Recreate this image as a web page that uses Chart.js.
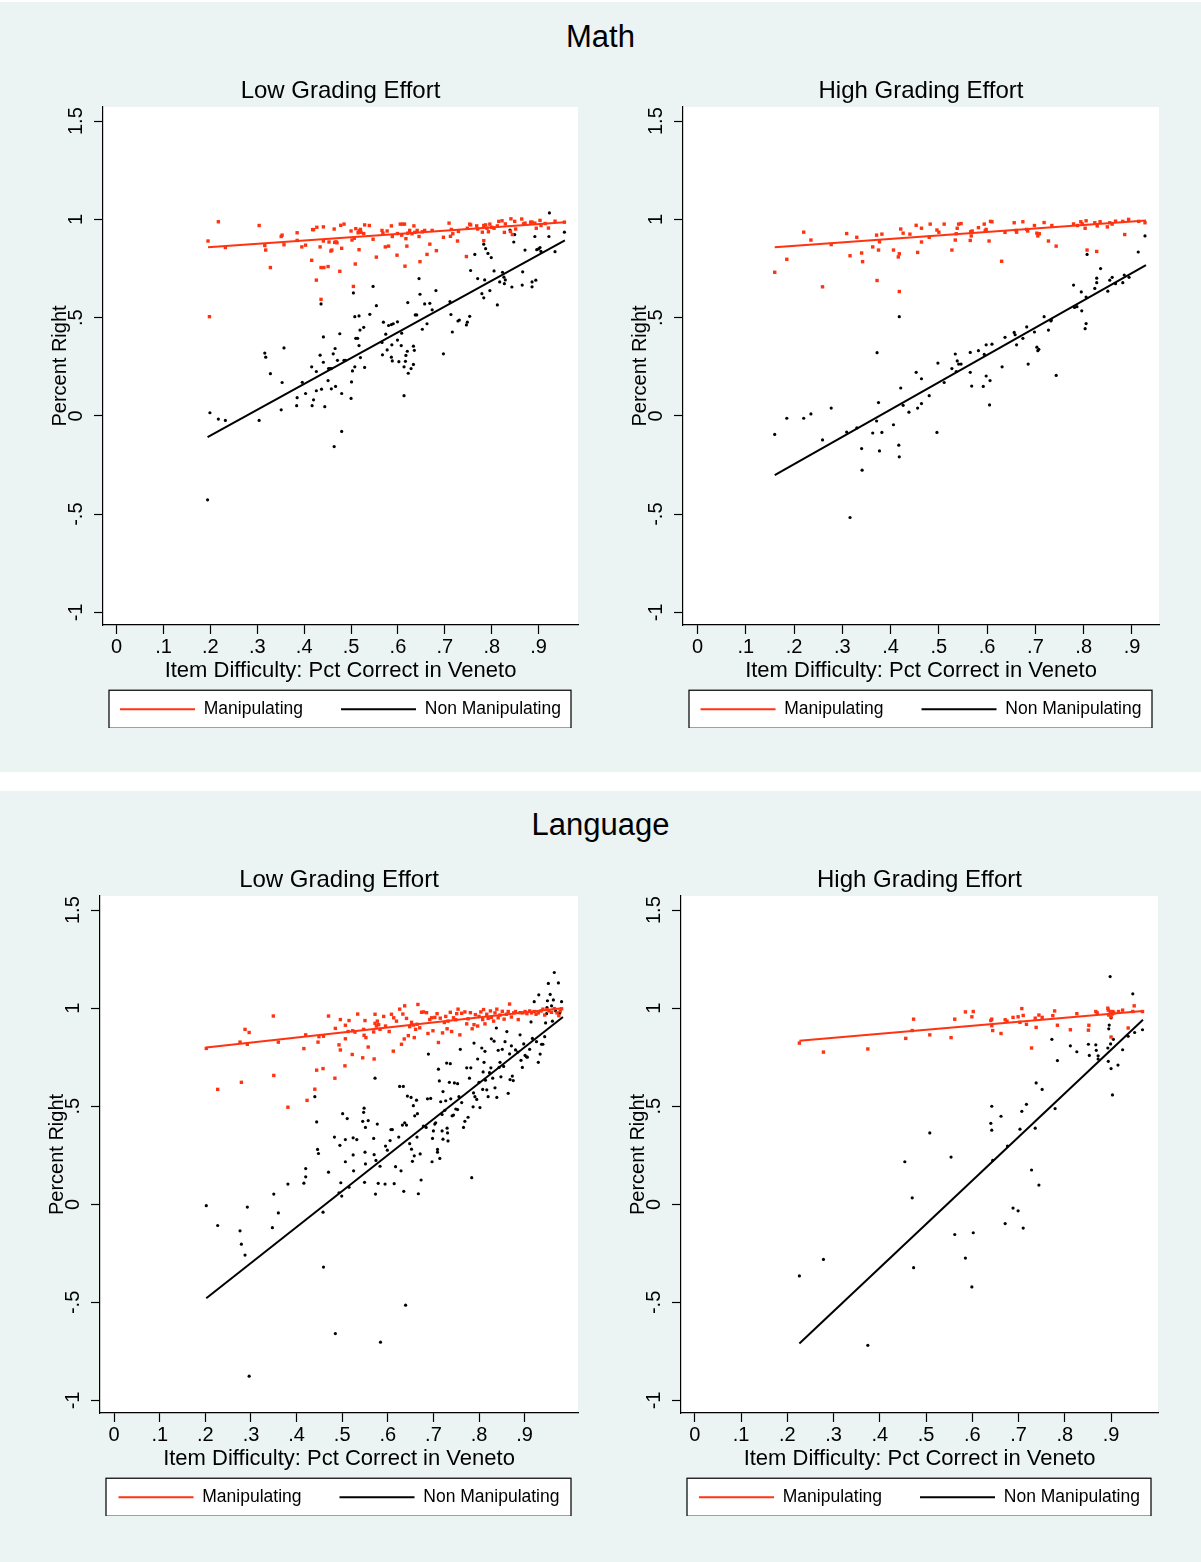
<!DOCTYPE html>
<html>
<head>
<meta charset="utf-8">
<title>Percent Right vs Item Difficulty</title>
<script src="https://cdn.jsdelivr.net/npm/chart.js@4.4.1/dist/chart.umd.min.js"></script>
<style>
  html, body { margin: 0; padding: 0; background: #ffffff; overflow: hidden; }
  body { position: relative; width: 1201px; height: 1562px;
         font-family: "Liberation Sans", Arial, Helvetica, sans-serif; }
  .block { position: absolute; left: 0; width: 1201px; background: #ebf3f3; }
  .block-title { position: absolute; left: 0; width: 1201px; text-align: center;
                 font-size: 31px; line-height: 40px; color: #000; }
  canvas { position: absolute; }
</style>
</head>
<body>
<div class="block" style="top:2px;height:770px"></div>
<div class="block" style="top:791px;height:771px"></div>
<div class="block-title" style="top:17px">Math</div>
<div class="block-title" style="top:805px">Language</div>

<canvas id="mathLow"   width="601" height="654" style="left:40px;top:74px"></canvas>
<canvas id="mathHigh"  width="602" height="654" style="left:620px;top:74px"></canvas>
<canvas id="langLow"   width="604" height="653" style="left:37px;top:863px"></canvas>
<canvas id="langHigh"  width="603" height="653" style="left:618px;top:863px"></canvas>

<script>
// ---- axis ticks ----
const xTicks = [0, 0.1, 0.2, 0.3, 0.4, 0.5, 0.6, 0.7, 0.8, 0.9];
const xTickLabels = ['0', '.1', '.2', '.3', '.4', '.5', '.6', '.7', '.8', '.9'];
const yTicks = [-1, -0.5, 0, 0.5, 1, 1.5];
const yTickLabels = ['-1', '-.5', '0', '.5', '1', '1.5'];

const seriesNames = ['Manipulating', 'Non Manipulating'];

// ---- Math, low grading effort: [item difficulty, percent right] ----
const mathLowManip = [
  [.195,.89],[.217,.988],[.232,.857],[.304,.969],[.316,.867],[.318,.844],[.328,.755],[.351,.913],[.353,.92],[.357,.871],
  [.385,.932],[.385,.893],[.395,.86],[.403,.869],[.416,.792],[.418,.948],[.42,.948],[.426,.691],[.427,.96],[.434,.86],
  [.436,.755],[.441,.962],[.442,.755],[.441,.89],[.451,.76],[.453,.885],[.457,.839],[.459,.844],[.464,.951],[.465,.883],
  [.468,.886],[.47,.881],[.476,.736],[.478,.97],[.48,.853],[.485,.976],[.5,.941],[.502,.895],[.505,.659],[.507,.904],
  [.509,.773],[.51,.953],[.515,.932],[.517,.846],[.517,.942],[.52,.949],[.521,.934],[.527,.928],[.529,.972],[.539,.969],
  [.547,.899],[.554,.808],[.566,.944],[.568,.93],[.573,.86],[.577,.941],[.58,.864],[.586,.967],[.588,.913],[.598,.818],
  [.599,.928],[.605,.976],[.608,.92],[.61,.976],[.614,.976],[.617,.902],[.615,.762],[.619,.864],[.621,.93],[.625,.944],
  [.63,.927],[.634,.967],[.636,.934],[.641,.944],[.645,.913],[.647,.785],[.652,.937],[.657,.944],[.662,.822],[.668,.874],
  [.673,.944],[.682,.841],[.697,.909],[.709,.981],[.712,.914],[.714,.949],[.717,.927],[.727,.89],[.729,.939],[.746,.811],
  [.748,.955],[.753,.976],[.755,.972],[.768,.967],[.77,.951],[.78,.935],[.783,.892],[.783,.969],[.787,.972],[.79,.955],
  [.793,.937],[.796,.976],[.8,.96],[.805,.955],[.812,.967],[.815,.99],[.822,.993],[.827,.934],[.829,.977],[.84,.939],
  [.841,1.003],[.844,.923],[.849,.99],[.851,.951],[.864,1.002],[.868,.977],[.871,.981],[.883,.986],[.886,.986],[.892,.981],
  [.895,.955],[.903,.995],[.905,.969],[.914,.979],[.921,.956],[.935,.991],[.955,.986],[.436,.593],[.198,.505]
];
const mathLowNon = [
  [.194,-.427],[.199,.016],[.217,-.016],[.232,-.023],[.304,-.023],[.316,.32],[.318,.299],[.328,.215],[.351,.031],[.353,.17],
  [.357,.346],[.384,.052],[.385,.093],[.396,.171],[.403,.114],[.416,.25],[.417,.052],[.42,.082],[.426,.226],[.426,.128],
  [.434,.309],[.436,.57],[.437,.136],[.441,.273],[.441,.402],[.444,.047],[.451,.18],[.452,.241],[.455,.241],[.458,.241],
  [.458,.138],[.462,.316],[.466,.343],[.467,.15],[.471,.283],[.476,.418],[.48,.114],[.48,-.079],[.464,-.156],[.485,.283],
  [.488,.283],[.5,.089],[.501,.173],[.503,.229],[.505,.626],[.508,.25],[.508,.505],[.51,.395],[.514,.395],[.517,.509],
  [.517,.358],[.519,.437],[.52,.297],[.527,.451],[.529,.247],[.54,.517],[.547,.659],[.554,.561],[.566,.374],[.567,.311],
  [.569,.477],[.574,.416],[.577,.336],[.58,.46],[.586,.465],[.586,.299],[.587,.362],[.588,.28],[.59,.469],[.599,.479],
  [.599,.386],[.602,.276],[.607,.358],[.608,.421],[.613,.103],[.613,.25],[.617,.308],[.616,.278],[.62,.329],[.621,.577],
  [.622,.217],[.628,.241],[.633,.355],[.635,.334],[.633,.262],[.637,.514],[.64,.514],[.645,.699],[.647,.619],[.652,.441],
  [.657,.57],[.662,.469],[.668,.573],[.673,.54],[.681,.638],[.697,.316],[.711,.582],[.713,.516],[.716,.427],[.728,.483],
  [.731,.488],[.746,.463],[.748,.477],[.753,.507],[.755,.74],[.764,.822],[.77,.699],[.779,.622],[.783,.601],[.783,.874],
  [.785,.692],[.787,.851],[.792,.827],[.796,.638],[.799,.806],[.805,.738],[.812,.565],[.817,.682],[.823,.731],[.826,.706],
  [.827,.673],[.829,.692],[.839,.946],[.843,.656],[.847,.885],[.849,.923],[.865,.666],[.866,.733],[.871,.844],[.886,.657],
  [.886,.682],[.892,.913],[.894,.691],[.896,.846],[.9,.85],[.903,.857],[.905,.837],[.923,1.033],[.922,.913],[.935,.836],
  [.955,.935]
];
const mathLowManipFit = [[.195,.858],[.956,.986]];
const mathLowNonFit = [[.194,-.108],[.956,.893]];

// ---- Math, high grading effort ----
const mathHighManip = [
  [.16,.731],[.185,.797],[.22,.935],[.235,.895],[.259,.657],[.277,.872],[.309,.928],[.316,.815],[.33,.909],[.34,.829],
  [.342,.785],[.363,.86],[.371,.92],[.372,.689],[.375,.844],[.377,.886],[.382,.925],[.406,.844],[.416,.809],[.418,.633],
  [.418,.825],[.421,.951],[.426,.93],[.44,.925],[.453,.97],[.456,.832],[.464,.955],[.464,.885],[.48,.909],[.482,.976],
  [.496,.946],[.5,.935],[.511,.976],[.527,.844],[.534,.895],[.536,.927],[.538,.955],[.541,.976],[.546,.979],[.565,.893],
  [.566,.937],[.567,.916],[.569,.941],[.582,.958],[.594,.976],[.596,.942],[.598,.949],[.604,.89],[.607,.99],[.61,.988],
  [.63,.787],[.637,.934],[.656,.983],[.66,.944],[.661,.935],[.674,.988],[.682,.949],[.684,.941],[.698,.969],[.703,.93],
  [.705,.916],[.708,.927],[.718,.984],[.727,.89],[.734,.969],[.743,.864],[.779,.977],[.787,.969],[.794,.988],[.797,.977],
  [.803,.955],[.805,.993],[.807,.844],[.823,.983],[.827,.837],[.828,.967],[.834,.988],[.849,.962],[.854,.983],[.859,.976],
  [.866,.991],[.881,.99],[.885,.923],[.893,1.0],[.914,.99],[.927,.983]
];
const mathHighNon = [
  [.16,-.094],[.185,-.012],[.22,-.012],[.235,.01],[.259,-.122],[.277,.04],[.309,-.082],[.316,-.517],[.33,-.061],[.34,-.166],
  [.341,-.276],[.363,-.087],[.371,-.026],[.372,.322],[.375,.068],[.377,-.178],[.382,-.084],[.406,-.045],[.417,-.149],[.418,.505],
  [.418,-.208],[.421,.142],[.426,.054],[.438,.019],[.453,.222],[.456,.04],[.464,.189],[.464,.063],[.48,.103],[.496,-.084],
  [.498,.269],[.511,.17],[.527,.241],[.534,.315],[.536,.226],[.538,.28],[.541,.264],[.546,.264],[.565,.323],[.565,.222],
  [.568,.152],[.582,.332],[.592,.15],[.594,.313],[.598,.362],[.598,.203],[.605,.056],[.606,.18],[.61,.365],[.631,.25],
  [.637,.4],[.656,.425],[.658,.413],[.661,.362],[.674,.395],[.682,.453],[.685,.264],[.698,.427],[.703,.35],[.705,.332],
  [.707,.339],[.718,.505],[.727,.437],[.732,.483],[.733,.488],[.743,.206],[.779,.666],[.781,.552],[.786,.556],[.795,.631],
  [.796,.535],[.803,.444],[.805,.47],[.805,.605],[.807,.822],[.823,.649],[.827,.701],[.827,.678],[.835,.75],[.85,.635],
  [.854,.691],[.859,.705],[.866,.673],[.881,.678],[.884,.717],[.894,.705],[.913,.834],[.927,.916]
];
const mathHighManipFit = [[.16,.858],[.929,.995]];
const mathHighNonFit = [[.16,-.301],[.929,.767]];

// ---- Language, low grading effort ----
const langLowManip = [
  [.202,.795],[.227,.586],[.276,.827],[.279,.622],[.287,.892],[.292,.816],[.296,.876],[.35,.657],[.349,.96],[.36,.827],
  [.381,.495],[.416,.794],[.42,.864],[.423,.53],[.44,.587],[.444,.684],[.447,.827],[.449,.855],[.458,.692],[.459,.857],
  [.47,.96],[.484,.643],[.485,.897],[.493,.813],[.496,.942],[.496,.787],[.506,.706],[.507,.844],[.507,.913],[.513,.881],
  [.515,.937],[.522,.764],[.523,.885],[.528,.878],[.534,.97],[.545,.747],[.547,.892],[.548,.862],[.55,.937],[.552,.85],
  [.557,.802],[.569,.879],[.57,.741],[.572,.969],[.572,.923],[.575,.909],[.577,.934],[.58,.916],[.583,.892],[.591,.958],
  [.595,.909],[.603,.881],[.608,.969],[.612,.781],[.613,.951],[.619,.934],[.626,.995],[.63,.816],[.633,.97],[.636,.843],
  [.637,1.012],[.641,.948],[.645,.86],[.648,.906],[.652,.928],[.656,.914],[.658,.85],[.661,.892],[.664,.918],[.666,1.019],
  [.67,.9],[.674,.979],[.678,.981],[.685,.977],[.688,.871],[.692,.942],[.696,.951],[.699,.885],[.703,.953],[.708,.972],
  [.711,.825],[.715,.949],[.72,.874],[.724,.927],[.727,.958],[.73,.895],[.732,.934],[.737,.979],[.74,.881],[.744,.951],
  [.749,.941],[.751,.972],[.754,.995],[.758,.864],[.762,.974],[.769,.981],[.773,.92],[.776,.946],[.781,.977],[.785,.895],
  [.789,.916],[.792,.967],[.797,.909],[.8,.958],[.804,.981],[.808,.942],[.81,.993],[.813,.92],[.817,.969],[.82,.948],
  [.825,.986],[.827,.953],[.832,.934],[.835,.976],[.839,.995],[.842,.951],[.846,.965],[.851,.984],[.855,.944],[.86,.969],
  [.864,.983],[.867,1.021],[.871,.955],[.876,.976],[.88,.983],[.886,.942],[.89,.977],[.896,.976],[.901,.983],[.905,.972],
  [.911,.986],[.915,.976],[.921,.983],[.925,.969],[.93,.976],[.936,.986],[.94,.995],[.944,.965],[.949,.993],[.953,.986],
  [.959,.979],[.965,.998],[.971,.976],[.975,.962],[.981,.997],[.978,.986]
];
const langLowNon = [
  [.202,-.007],[.227,-.108],[.276,-.135],[.279,-.203],[.287,-.259],[.292,-.014],[.296,-.876],[.347,-.119],[.35,.052],[.36,-.044],
  [.381,.103],[.416,.108],[.42,.14],[.42,.182],[.44,.549],[.444,.42],[.446,.28],[.448,.259],[.458,-.04],[.459,-.32],
  [.47,.164],[.483,.343],[.485,-.659],[.493,.059],[.495,.301],[.497,.11],[.499,.042],[.501,.462],[.507,.33],[.507,.217],
  [.511,.437],[.515,.087],[.524,.339],[.524,.252],[.525,.171],[.532,.33],[.545,.423],[.547,.469],[.548,.49],[.549,.112],
  [.55,.266],[.551,.392],[.551,.206],[.557,.427],[.569,.336],[.57,.253],[.572,.643],[.573,.052],[.574,.224],[.577,.409],
  [.579,.107],[.583,.194],[.584,-.703],[.594,.103],[.595,.297],[.599,.276],[.605,.325],[.607,.381],[.61,.381],[.614,.105],
  [.617,.192],[.624,.343],[.626,.601],[.629,.171],[.632,.404],[.634,.601],[.635,.066],[.637,.416],[.639,-.514],[.641,.404],
  [.643,.552],[.648,.309],[.651,.545],[.652,.281],[.654,.219],[.656,.503],[.658,.247],[.659,.451],[.663,.531],[.664,.343],
  [.665,.462],[.667,.054],[.671,.257],[.673,.124],[.678,.399],[.684,.392],[.687,.538],[.689,.766],[.694,.54],[.697,.217],
  [.698,.336],[.7,.374],[.703,.409],[.705,.416],[.709,.28],[.709,.266],[.711,.689],[.713,.629],[.714,.234],[.716,.523],
  [.719,.374],[.719,.458],[.721,.575],[.721,.332],[.725,.479],[.727,.528],[.729,.72],[.73,.388],[.731,.364],[.732,.323],
  [.735,.622],[.737,.717],[.738,.538],[.741,.451],[.744,.455],[.746,.619],[.749,.486],[.753,.615],[.753,.483],[.756,.549],
  [.759,.79],[.762,.519],[.766,.392],[.769,.423],[.773,.696],[.776,.444],[.779,.643],[.782,.696],[.784,.136],[.787,.497],
  [.788,.568],[.789,.822],[.791,.549],[.795,.535],[.797,.741],[.8,.622],[.802,.493],[.806,.797],[.808,.586],[.809,.675],
  [.811,.724],[.813,.78],[.814,.633],[.817,.584],[.82,.549],[.823,.671],[.826,.696],[.827,.844],[.83,.643],[.833,.832],
  [.835,.594],[.838,.899],[.839,.545],[.842,.785],[.844,.698],[.846,.724],[.848,.65],[.851,.79],[.854,.703],[.857,.829],
  [.861,.881],[.864,.566],[.867,.767],[.868,.636],[.871,.808],[.873,.654],[.875,.631],[.88,.787],[.885,.776],[.89,.864],
  [.892,.734],[.895,.698],[.898,.818],[.901,.759],[.904,.752],[.906,.75],[.911,.79],[.914,.93],[.917,.846],[.921,1.033],
  [.926,.829],[.93,.724],[.931,1.068],[.934,.766],[.937,.816],[.94,.816],[.944,.855],[.946,.925],[.948,.972],[.949,1.003],
  [.95,1.038],[.952,1.126],[.956,1.07],[.959,1.012],[.961,.934],[.963,1.042],[.965,1.182],[.968,.986],[.974,1.129],[.977,.976],
  [.981,1.033]
];
const langLowManipFit = [[.202,.799],[.982,1.0]];
const langLowNonFit = [[.202,-.479],[.984,.955]];

// ---- Language, high grading effort ----
const langHighManip = [
  [.226,.822],[.278,.776],[.374,.792],[.456,.846],[.47,.886],[.473,.944],[.508,.864],[.554,.85],[.562,.944],[.585,.981],
  [.599,.956],[.602,.983],[.64,.937],[.642,.944],[.642,.911],[.644,.886],[.662,.871],[.671,.941],[.675,.934],[.688,.953],
  [.699,.956],[.703,.928],[.707,.998],[.71,.963],[.717,.918],[.728,.797],[.736,.949],[.738,.902],[.744,.965],[.751,.953],
  [.774,.962],[.778,.986],[.784,.913],[.812,.89],[.826,.972],[.851,.888],[.852,.913],[.867,.983],[.87,.976],[.893,1.0],
  [.894,.99],[.895,.965],[.898,.983],[.9,.955],[.9,.853],[.902,.97],[.904,.983],[.906,.976],[.916,.983],[.925,.99],
  [.937,.899],[.947,.983],[.95,1.012],[.968,.983]
];
const langHighNon = [
  [.226,-.365],[.278,-.281],[.374,-.719],[.454,.217],[.47,.033],[.473,-.323],[.508,.364],[.554,.241],[.562,-.154],[.585,-.274],
  [.599,-.421],[.602,-.145],[.64,.413],[.642,.5],[.642,.378],[.644,.224],[.662,.449],[.671,-.098],[.676,.297],[.688,-.019],
  [.699,-.033],[.703,.383],[.707,.474],[.71,-.121],[.717,.51],[.728,.175],[.736,.388],[.738,.619],[.744,.098],[.751,.586],
  [.772,.841],[.779,.488],[.784,.733],[.812,.808],[.826,.778],[.851,.816],[.853,.759],[.867,.813],[.868,.785],[.872,.757],
  [.872,.741],[.893,.797],[.894,.729],[.895,.895],[.896,.914],[.898,1.161],[.899,.818],[.9,.692],[.9,.951],[.903,.558],
  [.905,.841],[.915,.71],[.925,.788],[.937,.857],[.947,1.073],[.951,.876],[.968,.89]
];
const langHighManipFit = [[.226,.834],[.969,.986]];
const langHighNonFit = [[.226,-.71],[.969,.941]];

// ---- styling ----
const RED = '#ff3311';
const BLACK = '#000000';
const FONT = '"Liberation Sans", Arial, Helvetica, sans-serif';
const SIDE = 63;          // room for the y axis (and a matching empty gutter on the right)
const LEGEND_PAD = 38;
Chart.defaults.font.family = FONT;
Chart.defaults.color = '#000';

const toXY = (pairs) => pairs.map(p => ({ x: p[0], y: p[1] }));

// white plot region + framed legend, like the Stata graph
const panelDecor = {
  id: 'panelDecor',
  beforeDraw(chart) {
    const { ctx, chartArea: a, legend } = chart;
    ctx.save();
    ctx.fillStyle = '#ffffff';
    ctx.fillRect(a.left, a.top, a.right - a.left, a.bottom - a.top);
    if (legend) {
      const lab = legend.options.labels;
      const cy = legend.top + lab.padding + lab.font.size / 2;
      const bx = a.left + 6;
      const bw = (a.right - 7) - bx;
      ctx.fillRect(bx, cy - 19, bw, 38);
      ctx.strokeStyle = '#111';
      ctx.lineWidth = 1.3;
      ctx.strokeRect(bx, cy - 19, bw, 38);
    }
    ctx.restore();
  }
};

function axisGrid() {
  return { drawOnChartArea: false, drawTicks: true, tickLength: 9, tickColor: '#000', tickWidth: 1.2 };
}

function makePanel(id, title, manip, non, manipFit, nonFit, xMin, xMax) {
  const ctx = document.getElementById(id).getContext('2d');
  return new Chart(ctx, {
    type: 'scatter',
    data: {
      datasets: [
        { label: seriesNames[0], data: toXY(manipFit), showLine: true, borderColor: RED, backgroundColor: RED,
          borderWidth: 2, pointRadius: 0 },
        { label: seriesNames[1], data: toXY(nonFit), showLine: true, borderColor: BLACK, backgroundColor: BLACK,
          borderWidth: 2, pointRadius: 0 },
        { label: '', data: toXY(manip), pointStyle: 'rect', pointRadius: 2.4, borderWidth: 0,
          backgroundColor: RED, borderColor: RED },
        { label: '', data: toXY(non), pointStyle: 'circle', pointRadius: 1.6, borderWidth: 0,
          backgroundColor: BLACK, borderColor: BLACK }
      ]
    },
    options: {
      responsive: false,
      animation: false,
      layout: { padding: 0 },
      plugins: {
        tooltip: { enabled: false },
        title: {
          display: true, text: title, fullSize: false, color: '#000',
          font: { size: 24, weight: 'normal', family: FONT },
          padding: { top: 2.6, bottom: 1.6 }
        },
        legend: {
          position: 'bottom',
          labels: {
            font: { size: 17.5, family: FONT }, color: '#000',
            boxWidth: 75, boxHeight: 2, padding: LEGEND_PAD,
            generateLabels: (chart) => Chart.defaults.plugins.legend.labels.generateLabels(chart)
              .filter(l => chart.data.datasets[l.datasetIndex].label)
              .map(l => Object.assign(l, { lineWidth: 0, fillStyle: l.strokeStyle }))
          }
        }
      },
      scales: {
        x: {
          type: 'linear', min: xMin, max: xMax,
          afterBuildTicks: s => { s.ticks = xTicks.map(v => ({ value: v })); },
          afterFit: s => { s.height = 37.5; },
          ticks: { autoSkip: false, maxRotation: 0, minRotation: 0, padding: 1, color: '#000',
                   font: { size: 20, family: FONT }, callback: v => xTickLabels[xTicks.indexOf(v)] },
          grid: axisGrid(),
          border: { display: true, color: '#000', width: 1.2 },
          title: { display: true, text: 'Item Difficulty: Pct Correct in Veneto', color: '#000',
                   font: { size: 22, family: FONT }, padding: { top: -1, bottom: -21.7 } }
        },
        y: {
          type: 'linear', min: -1.064, max: 1.572,
          afterBuildTicks: s => { s.ticks = yTicks.map(v => ({ value: v })); },
          afterFit: s => { s.width = SIDE; },
          ticks: { autoSkip: false, minRotation: 90, maxRotation: 90, crossAlign: 'center', padding: 4,
                   color: '#000', font: { size: 20, family: FONT },
                   callback: v => yTickLabels[yTicks.indexOf(v)] },
          grid: axisGrid(),
          border: { display: true, color: '#000', width: 1.2 },
          title: { display: true, text: 'Percent Right', color: '#000',
                   font: { size: 20, family: FONT }, padding: { top: 8, bottom: 0 } }
        },
        // empty gutter so the full-width legend is centred under the plot region
        yGutter: {
          type: 'linear', position: 'right', min: 0, max: 1,
          afterFit: s => { s.width = SIDE; },
          ticks: { display: false }, grid: { display: false }, border: { display: false }
        }
      }
    },
    plugins: [panelDecor]
  });
}

window.addEventListener('DOMContentLoaded', () => {
  makePanel('mathLow', 'Low Grading Effort', mathLowManip, mathLowNon, mathLowManipFit, mathLowNonFit, -0.029, 0.984);
  makePanel('mathHigh', 'High Grading Effort', mathHighManip, mathHighNon, mathHighManipFit, mathHighNonFit, -0.030, 0.956);
  makePanel('langLow', 'Low Grading Effort', langLowManip, langLowNon, langLowManipFit, langLowNonFit, -0.031, 1.017);
  makePanel('langHigh', 'High Grading Effort', langHighManip, langHighNon, langHighManipFit, langHighNonFit, -0.030, 1.0015);
});
</script>
</body>
</html>
